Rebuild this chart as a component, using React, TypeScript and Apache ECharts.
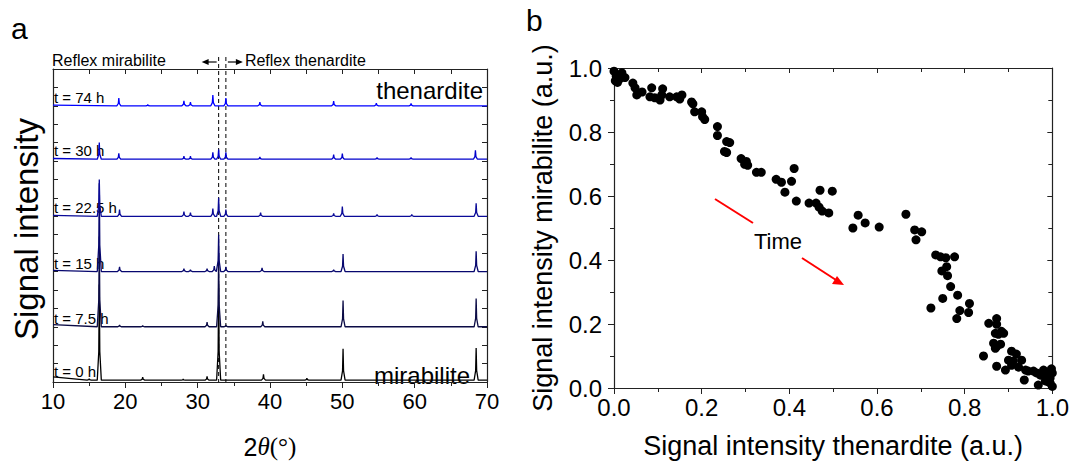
import React, { useEffect, useRef } from "react";
import * as echarts from "echarts";

// ---------- Panel a: XRD patterns ----------
const TIME_LABELS = ["t = 0 h", "t = 7.5 h", "t = 15 h", "t = 22.5 h", "t = 30 h", "t = 74 h"];
const OFFSETS = [0.1, 3.0, 6.0, 9.0, 12.1, 15.0];
const START_LIFT = [0.18, 0.12, 0.06, 0.05, 0.04, 0.04];
const TRACE_COLORS = ["#000000", "#0b0b45", "#07076e", "#0a0a98", "#0000cc", "#0000ff"];

// [2theta, peak height above baseline]
const PEAKS_0H = [[15.0, 0.08], [16.4, 5.2], [22.4, 0.16], [28.0, 0.06], [31.3, 0.2], [32.9, 5.2], [39.1, 0.32], [45.1, 0.1], [50.1, 1.7], [68.5, 1.75]];
const PEAKS_7H = [[16.4, 4.9], [19.2, 0.1], [22.4, 0.06], [31.3, 0.26], [32.9, 4.0], [33.9, 0.1], [39.0, 0.3], [50.1, 1.43], [68.5, 1.53]];
const PEAKS_15H = [[16.4, 4.8], [19.2, 0.26], [28.1, 0.16], [29.0, 0.1], [31.3, 0.16], [32.3, 0.3], [32.9, 2.0], [33.9, 0.26], [38.9, 0.2], [48.8, 0.1], [50.1, 0.95], [68.5, 1.1]];
const PEAKS_22H = [[16.4, 2.0], [19.2, 0.37], [28.1, 0.26], [29.0, 0.2], [32.1, 0.42], [32.9, 1.0], [33.9, 0.37], [38.7, 0.2], [48.8, 0.15], [50.0, 0.53], [54.8, 0.1], [59.6, 0.1], [68.5, 0.7]];
const PEAKS_30H = [[16.4, 0.9], [19.1, 0.32], [28.1, 0.16], [29.0, 0.16], [32.1, 0.37], [32.9, 0.53], [33.9, 0.37], [38.6, 0.12], [48.8, 0.25], [50.0, 0.3], [54.8, 0.1], [59.5, 0.1], [68.4, 0.48]];
const PEAKS_74H = [[19.1, 0.42], [23.1, 0.06], [28.1, 0.27], [29.0, 0.2], [32.1, 0.58], [33.9, 0.42], [38.6, 0.2], [48.8, 0.25], [54.7, 0.15], [59.5, 0.13]];
const ALL_PEAKS = [PEAKS_0H, PEAKS_7H, PEAKS_15H, PEAKS_22H, PEAKS_30H, PEAKS_74H];

const X_TICKS_A = { min: 10, max: 70, interval: 10 };
const REFLEX_LINES = [32.9, 33.9];

// ---------- Panel b: scatter ----------
const THENARDITE_X = [
  0.0, 0.005, 0.008, 0.012, 0.018, 0.003, 0.025, 0.043, 0.048, 0.052, 0.064, 0.086, 0.082, 0.093, 0.105, 0.109, 0.111,
  0.127, 0.143, 0.155, 0.15, 0.177, 0.18, 0.184, 0.2, 0.202, 0.207, 0.236, 0.236, 0.257, 0.264, 0.257, 0.252, 0.29,
  0.302, 0.298, 0.305, 0.325, 0.336, 0.37, 0.382, 0.39, 0.405, 0.411, 0.416, 0.445, 0.461, 0.468, 0.475, 0.49, 0.47,
  0.498, 0.545, 0.557, 0.573, 0.605, 0.666, 0.686, 0.702, 0.689, 0.723, 0.734, 0.745, 0.757, 0.777, 0.748, 0.759,
  0.761, 0.75, 0.768, 0.784, 0.789, 0.782, 0.811, 0.809, 0.855, 0.873, 0.873, 0.87, 0.877, 0.884, 0.889, 0.866, 0.873,
  0.882, 0.87, 0.843, 0.873, 0.893, 0.907, 0.918, 0.9, 0.911, 0.93, 0.907, 0.923, 0.939, 0.945, 0.957, 0.964, 0.973,
  0.98, 0.984, 0.991, 0.995, 0.984, 0.968, 0.936, 0.995, 1.0, 0.998, 0.99, 1.0,
];
const MIRABILITE_Y = [
  0.99, 0.975, 0.955, 0.965, 0.985, 0.96, 0.97, 0.953, 0.938, 0.916, 0.925, 0.938, 0.91, 0.907, 0.9, 0.916, 0.935,
  0.91, 0.91, 0.916, 0.903, 0.894, 0.888, 0.863, 0.863, 0.848, 0.839, 0.817, 0.789, 0.77, 0.767, 0.736, 0.739, 0.717,
  0.708, 0.699, 0.696, 0.674, 0.674, 0.652, 0.643, 0.612, 0.646, 0.686, 0.584, 0.578, 0.578, 0.565, 0.553, 0.547, 0.618,
  0.615, 0.5, 0.54, 0.516, 0.503, 0.543, 0.494, 0.488, 0.463, 0.25, 0.416, 0.41, 0.407, 0.41, 0.366, 0.379,
  0.351, 0.28, 0.317, 0.29, 0.242, 0.217, 0.264, 0.236, 0.202, 0.217, 0.199, 0.171, 0.168, 0.177, 0.171, 0.14, 0.13,
  0.137, 0.124, 0.1, 0.068, 0.056, 0.115, 0.106, 0.087, 0.084, 0.087, 0.071, 0.065, 0.056, 0.053, 0.053, 0.047, 0.04,
  0.056, 0.037, 0.043, 0.031, 0.022, 0.009, 0.025, 0.016, 0.047, 0.06, 0.02, 0.005,
];

const FONT = "'Liberation Sans', Arial, sans-serif";
const AXIS_COLOR = "#222";

function buildTrace(peaks: number[][], offset: number, lift: number) {
  const pts: number[][] = [[10, offset + lift]];
  const hw = 0.28;
  const inner = 0.07;
  peaks.forEach(([p, h]) => {
    pts.push([p - hw, offset]);
    pts.push([p - inner, offset + h * 0.3]);
    pts.push([p, offset + h]);
    pts.push([p + inner, offset + h * 0.3]);
    pts.push([p + hw, offset]);
  });
  pts.push([70, offset]);
  return pts;
}

function axisBase(extra: any) {
  return {
    axisLine: { show: true, onZero: false, lineStyle: { color: AXIS_COLOR, width: 1.2 } },
    splitLine: { show: false },
    ...extra,
  };
}

export default function App() {
  const ref = useRef<HTMLDivElement>(null);
  useEffect(() => {
    const chart = echarts.init(ref.current!, null, { renderer: "svg" });
    const tickOut = { show: true, inside: false, length: 6, lineStyle: { color: AXIS_COLOR } };
    const tickIn = { show: true, inside: true, length: 5, lineStyle: { color: AXIS_COLOR } };
    const minorOut = { show: true, splitNumber: 2, length: 4, lineStyle: { color: AXIS_COLOR } };
    const minorIn = { show: true, splitNumber: 2, length: 4, lineStyle: { color: AXIS_COLOR } };

    const option: any = {
      animation: false,
      backgroundColor: "#fff",
      grid: [
        { left: 53, top: 69, width: 434, height: 321 },
        { left: 614, top: 68, width: 440, height: 322 },
      ],
      xAxis: [
        axisBase({
          gridIndex: 0, type: "value", position: "bottom", ...X_TICKS_A,
          axisTick: tickOut, minorTick: minorOut,
          axisLabel: { fontSize: 22, fontFamily: FONT, color: "#000", margin: 8 },
          name: "{a|2}{b|θ}{c|(°)}", nameLocation: "middle", nameGap: 52,
          nameTextStyle: {
            rich: {
              a: { fontSize: 25, fontFamily: FONT, color: "#000" },
              b: { fontSize: 25, fontFamily: "'Liberation Serif', serif", fontStyle: "italic", color: "#000" },
              c: { fontSize: 25, fontFamily: "'Liberation Serif', serif", color: "#000" },
            },
          },
        }),
        axisBase({
          gridIndex: 0, type: "value", position: "top", ...X_TICKS_A,
          axisTick: tickIn, minorTick: { ...minorIn, length: 5 }, axisLabel: { show: false },
        }),
        axisBase({
          gridIndex: 1, type: "value", position: "bottom", min: 0, max: 1, interval: 0.2,
          axisTick: tickOut, minorTick: minorOut,
          axisLabel: { fontSize: 24, fontFamily: FONT, color: "#000", margin: 7, formatter: (v: number) => v.toFixed(1) },
          name: "Signal intensity thenardite (a.u.)", nameLocation: "middle", nameGap: 44,
          nameTextStyle: { fontSize: 27, fontFamily: FONT, color: "#000" },
        }),
        axisBase({
          gridIndex: 1, type: "value", position: "top", min: 0, max: 1, interval: 0.2,
          axisTick: tickIn, minorTick: minorIn, axisLabel: { show: false },
        }),
      ],
      yAxis: [
        axisBase({
          gridIndex: 0, type: "value", position: "left", min: 0, max: 17, interval: 1,
          axisTick: tickIn, axisLabel: { show: false },
        }),
        axisBase({
          gridIndex: 0, type: "value", position: "right", min: 0, max: 17, interval: 1,
          axisTick: tickIn, axisLabel: { show: false },
        }),
        axisBase({
          gridIndex: 1, type: "value", position: "left", min: 0, max: 1, interval: 0.2,
          axisTick: tickOut, minorTick: minorOut,
          axisLabel: { fontSize: 24, fontFamily: FONT, color: "#000", margin: 12, formatter: (v: number) => v.toFixed(1) },
          name: "Signal intensity mirabilite (a.u.)", nameLocation: "middle", nameGap: 58, nameRotate: 90,
          nameTextStyle: { fontSize: 27, fontFamily: FONT, color: "#000" },
        }),
        axisBase({
          gridIndex: 1, type: "value", position: "right", min: 0, max: 1, interval: 0.2,
          axisTick: tickIn, minorTick: minorIn, axisLabel: { show: false },
        }),
      ],
      series: [
        ...ALL_PEAKS.map((peaks, i) => ({
          type: "line",
          name: TIME_LABELS[i],
          xAxisIndex: 0,
          yAxisIndex: 0,
          data: buildTrace(peaks, OFFSETS[i], START_LIFT[i]),
          showSymbol: false,
          lineStyle: { color: TRACE_COLORS[i], width: 1.3 },
          silent: true,
        })),
        {
          type: "scatter",
          xAxisIndex: 2,
          yAxisIndex: 2,
          data: THENARDITE_X.map((x, i) => [x, MIRABILITE_Y[i]]),
          symbolSize: 9,
          itemStyle: { color: "#000", opacity: 1 },
          clip: false,
        },
      ],
    };
    chart.setOption(option);

    const px = (v: number) => chart.convertToPixel({ xAxisIndex: 0 }, v) as number;
    const py = (v: number) => chart.convertToPixel({ yAxisIndex: 0 }, v) as number;
    const txt = (text: string, x: number, y: number, size: number, align = "left", fill = "#000") => ({
      type: "text", x, y, silent: true,
      style: { text, fontSize: size, fontFamily: FONT, fill, textAlign: align, textVerticalAlign: "middle" },
    });

    const graphics: any[] = [];
    REFLEX_LINES.forEach((v) => {
      graphics.push({
        type: "line", silent: true,
        shape: { x1: px(v), y1: 57, x2: px(v), y2: py(0) },
        style: { stroke: "#000", lineWidth: 1, lineDash: [4, 3] },
      });
    });
    TIME_LABELS.forEach((t, i) => {
      graphics.push({
        type: "text", x: 54, y: py(OFFSETS[i]) - 1, silent: true,
        style: { text: t, fontSize: 15, fontFamily: FONT, fill: "#000", textAlign: "left", textVerticalAlign: "bottom" },
      });
    });
    const ay = 62;
    const l0 = px(REFLEX_LINES[0]);
    const r0 = px(REFLEX_LINES[1]);
    graphics.push(
      { type: "line", silent: true, shape: { x1: l0 - 2, y1: ay, x2: l0 - 12, y2: ay }, style: { stroke: "#000", lineWidth: 1.2 } },
      { type: "polygon", silent: true, shape: { points: [[l0 - 17, ay], [l0 - 10, ay - 3], [l0 - 10, ay + 3]] }, style: { fill: "#000" } },
      { type: "line", silent: true, shape: { x1: r0 + 2, y1: ay, x2: r0 + 12, y2: ay }, style: { stroke: "#000", lineWidth: 1.2 } },
      { type: "polygon", silent: true, shape: { points: [[r0 + 17, ay], [r0 + 10, ay - 3], [r0 + 10, ay + 3]] }, style: { fill: "#000" } },
      txt("Reflex mirabilite", 52, 60, 16),
      txt("Reflex thenardite", r0 + 19, 60, 16),
      txt("thenardite", 483, 90, 24, "right"),
      txt("mirabilite", 470, 375, 24, "right"),
      txt("a", 11, 28, 30),
      txt("b", 526, 20, 30),
      {
        type: "text", x: 26, y: 229, rotation: Math.PI / 2, silent: true,
        style: { text: "Signal intensity", fontSize: 33, fontFamily: FONT, fill: "#000", textAlign: "center", textVerticalAlign: "middle" },
      },
      // Time arrow in panel b
      { type: "line", silent: true, shape: { x1: 715, y1: 199, x2: 753, y2: 223 }, style: { stroke: "#ff0000", lineWidth: 2 } },
      { type: "line", silent: true, shape: { x1: 802, y1: 258, x2: 836, y2: 280 }, style: { stroke: "#ff0000", lineWidth: 2 } },
      { type: "polygon", silent: true, shape: { points: [[844, 285], [832, 284], [837, 276]] }, style: { fill: "#ff0000" } },
      txt("Time", 778, 241, 22, "center"),
    );
    chart.setOption({ graphic: graphics });
    return () => chart.dispose();
  }, []);
  return <div ref={ref} style={{ position: "fixed", left: 0, top: 0, width: 1072, height: 464 }} />;
}
